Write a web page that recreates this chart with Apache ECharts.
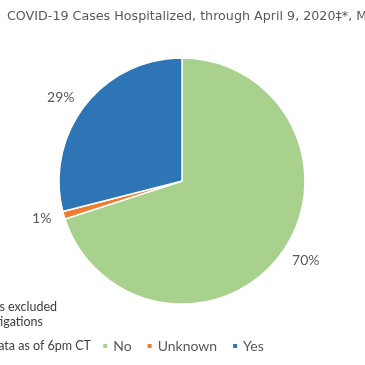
<!DOCTYPE html>
<html><head><meta charset="utf-8">
<script src="https://cdn.jsdelivr.net/npm/echarts@6/dist/echarts.min.js"></script>
<style>html,body{margin:0;padding:0;background:#fff}#c{width:365px;height:365px}</style>
</head><body><div id="c"></div>
<script>
const categories = ['No', 'Unknown', 'Yes'];
const values = [70, 1, 29];
const colors = ['#A9D18E', '#ED7D31', '#2E75B6'];
const titleText = 'COVID-19 Cases Hospitalized, through April 9, 2020‡*, Missouri';
const notes = ['Cases excluded', 'investigations', 'Data as of 6pm CT'];

const chart = echarts.init(document.getElementById('c'), null, {renderer: 'canvas'});
const gray = '#595959';
const dark = '#404040';
chart.setOption({
  animation: false,
  textStyle: {fontFamily: 'Lato'},
  graphic: [
    {type: 'text', x: 7, y: 10, style: {text: titleText, font: '12.7px "DejaVu Sans"', fill: gray}},
    {type: 'text', x: 57, y: 300, style: {text: notes[0], font: '12.5px "Lato"', fill: dark, textAlign: 'right'}},
    {type: 'text', x: 43, y: 315, style: {text: notes[1], font: '12.5px "Lato"', fill: dark, textAlign: 'right'}},
    {type: 'text', x: 91, y: 339, style: {text: notes[2], font: '12.5px "Lato"', fill: dark, textAlign: 'right'}}
  ],
  legend: {
    data: categories, top: 334, left: 'center', itemWidth: 6, itemHeight: 6, icon: 'rect', itemGap: 14,
    textStyle: {color: gray, fontSize: 14, fontFamily: 'Lato'}
  },
  series: [{
    type: 'pie', center: [182, 181], radius: [0, 123], startAngle: 90, clockwise: true,
    color: colors,
    data: categories.map((c, i) => ({name: c, value: values[i]})),
    itemStyle: {borderColor: '#fff', borderWidth: 1.5},
    label: {show: true, position: 'outside', formatter: '{d}%', color: gray, fontSize: 14, fontFamily: 'Lato', distanceToLabelLine: 0},
    labelLine: {show: false, length: 13, length2: 0},
    avoidLabelOverlap: false
  }]
});
</script></body></html>
